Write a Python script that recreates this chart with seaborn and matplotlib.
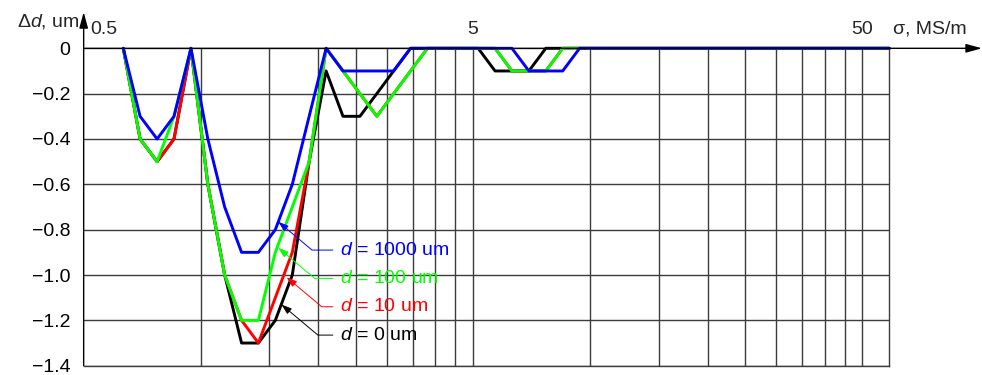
import matplotlib
matplotlib.use("Agg")
import matplotlib.pyplot as plt
import pandas as pd
import seaborn as sns

# Conductivity sampling points, MS/m
sigma = [0.632, 0.698, 0.772, 0.853, 0.943, 1.042, 1.151, 1.272, 1.405, 1.553,
         1.717, 1.897, 2.097, 2.317, 2.561, 2.830, 3.126, 3.455, 3.818, 4.219,
         4.663, 5.153, 5.695, 6.293, 6.955, 7.686, 8.495, 9.387, 58.6]

# Thickness error, um, for each coating thickness d
delta_d0 = [0, -0.4, -0.5, -0.4, 0, -0.6, -1.0, -1.3, -1.3, -1.2,
            -1.0, -0.5, -0.1, -0.3, -0.3, -0.2, -0.1, 0, 0, 0,
            0, 0, -0.1, -0.1, -0.1, 0, 0, 0, 0]
delta_d10 = [0, -0.4, -0.5, -0.4, 0, -0.6, -1.0, -1.2, -1.3, -1.1,
             -0.9, -0.5, 0, -0.1, -0.2, -0.3, -0.2, -0.1, 0, 0,
             0, 0, 0, -0.1, -0.1, -0.1, 0, 0, 0]
delta_d100 = [0, -0.4, -0.5, -0.3, 0, -0.6, -1.0, -1.2, -1.2, -0.9,
              -0.7, -0.5, 0, -0.1, -0.2, -0.3, -0.2, -0.1, 0, 0,
              0, 0, 0, -0.1, -0.1, -0.1, 0, 0, 0]
delta_d1000 = [0, -0.3, -0.4, -0.3, 0, -0.4, -0.7, -0.9, -0.9, -0.8,
               -0.6, -0.3, 0, -0.1, -0.1, -0.1, -0.1, 0, 0, 0,
               0, 0, 0, 0, -0.1, -0.1, -0.1, 0, 0]

series_names = ["$d$ = 0 um", "$d$ = 10 um", "$d$ = 100 um", "$d$ = 1000 um"]
series_values = [delta_d0, delta_d10, delta_d100, delta_d1000]
series_colors = ["#000000", "#ff0000", "#00ff00", "#0000ff"]

# Callout positions (arrow tip and label anchor) for each series
tip_sigma = [1.61, 1.66, 1.58, 1.58]
tip_delta = [-1.13, -1.01, -0.88, -0.765]
label_sigma = [2.28, 2.28, 2.28, 2.28]
label_delta = [-1.265, -1.14, -1.015, -0.89]

y_ticks = [0, -0.2, -0.4, -0.6, -0.8, -1.0, -1.2, -1.4]
x_grid = [1, 1.5, 2, 2.5, 3, 3.5, 4, 4.5, 5, 10, 15, 20, 25, 30, 35, 40, 45, 50]
x_labels = [0.5, 5, 50]

sns.set_theme(style="white")
plt.rcParams["font.family"] = ["Liberation Sans", "DejaVu Sans"]
plt.rcParams["mathtext.fontset"] = "custom"
plt.rcParams["mathtext.rm"] = "Liberation Sans"
plt.rcParams["mathtext.it"] = "Liberation Sans:italic"

FS = 14
GRID = "#3c3c3c"

df = pd.concat(
    [pd.DataFrame({"sigma": sigma, "delta": vals, "series": name})
     for name, vals in zip(series_names, series_values)],
    ignore_index=True,
)

fig = plt.figure(figsize=(9.82, 3.75), dpi=100)
ax = fig.add_axes([0.0852, 0.0248, 0.8204, 0.8464])

sns.lineplot(data=df, x="sigma", y="delta", hue="series", hue_order=series_names,
             palette=series_colors, estimator=None, sort=False, linewidth=2.1,
             legend=False, ax=ax, clip_on=False, zorder=3)

ax.set_xscale("log")
ax.set_xlim(0.5, 58.6)
ax.set_ylim(-1.4, 0)
ax.set_xlabel("")
ax.set_ylabel("")

# grid
ax.set_xticks(x_grid)
ax.set_xticks([], minor=True)
ax.set_xticklabels([])
ax.set_yticks(y_ticks)
ax.set_yticklabels(["0" if v == 0 else f"{v:.1f}".replace("-", "\u2212") for v in y_ticks])
ax.tick_params(axis="both", length=0)
ax.tick_params(axis="y", pad=9.5, labelsize=FS, labelcolor="black")
ax.grid(True, axis="both", color=GRID, linewidth=1.0)
for side in ("left", "top"):
    ax.spines[side].set_visible(False)
for side in ("right", "bottom"):
    ax.spines[side].set_visible(True)
    ax.spines[side].set_color(GRID)
    ax.spines[side].set_linewidth(1.0)

# axes with arrows
ax.annotate("", xy=(1.115, 1.0), xytext=(0.0, 1.0), xycoords="axes fraction",
            arrowprops=dict(arrowstyle="-|>,head_length=0.8,head_width=0.22",
                            color="black", lw=1.0, shrinkA=0, shrinkB=0,
                            mutation_scale=12), annotation_clip=False)
ax.annotate("", xy=(0.0, 1.114), xytext=(0.0, 0.0), xycoords="axes fraction",
            arrowprops=dict(arrowstyle="-|>,head_length=0.8,head_width=0.22",
                            color="black", lw=1.0, shrinkA=0, shrinkB=0,
                            mutation_scale=12), annotation_clip=False)

# x labels above the axis line
trans = ax.get_xaxis_transform()
for v in x_labels:
    txt = f"{v:g}"
    if v == x_labels[0]:
        ax.text(v * 1.125, 1.06, txt, transform=trans, ha="center", va="center",
                fontsize=FS)
    else:
        ax.text(v, 1.06, txt, transform=trans, ha="center", va="center", fontsize=FS)
ax.text(1.0045, 1.06, "\u03c3, MS/m", transform=ax.transAxes, ha="left",
        va="center", fontsize=FS)
ax.text(-0.005, 1.085, "\u0394$d$, um", transform=ax.transAxes, ha="right",
        va="center", fontsize=FS)

# callouts
for name, c, tx, ty, lx, ly in zip(series_names, series_colors, tip_sigma,
                                   tip_delta, label_sigma, label_delta):
    ax.annotate(name, xy=(tx, ty), xytext=(lx, ly), color=c, fontsize=FS,
                ha="left", va="center", zorder=5,
                arrowprops=dict(arrowstyle="-|>,head_length=0.45,head_width=0.15",
                                color=c, lw=0.7, shrinkA=3, shrinkB=0,
                                relpos=(0, 0.5),
                                connectionstyle="angle,angleA=0,angleB=-40,rad=0"))

fig.savefig("out.png", dpi=100, facecolor="white")
